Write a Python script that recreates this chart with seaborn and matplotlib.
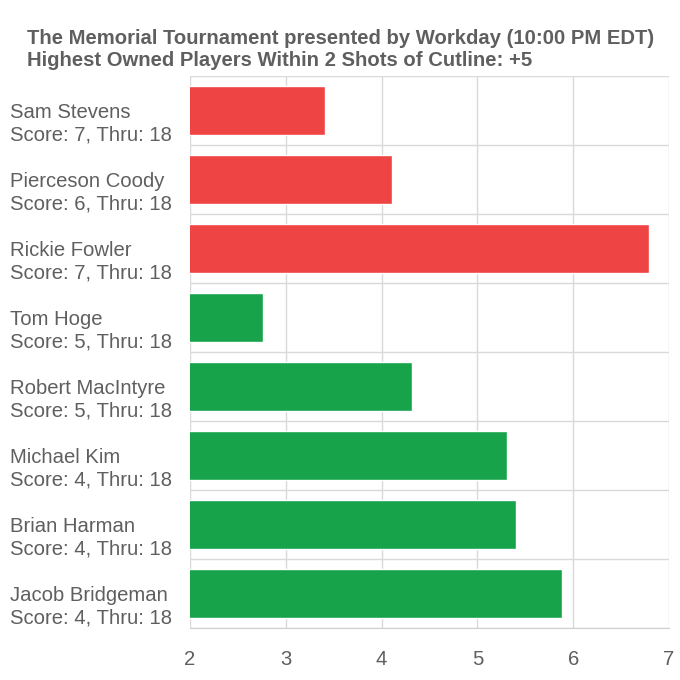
import matplotlib
matplotlib.use("Agg")
import matplotlib.pyplot as plt
import matplotlib.transforms as mtransforms
import seaborn as sns
import numpy as np
import pandas as pd

# data
players = ["Sam Stevens", "Pierceson Coody", "Rickie Fowler", "Tom Hoge",
           "Robert MacIntyre", "Michael Kim", "Brian Harman", "Jacob Bridgeman"]
scores = [7, 6, 7, 5, 5, 4, 4, 4]
thru = [18, 18, 18, 18, 18, 18, 18, 18]
owned = [3.41, 4.11, 6.79, 2.76, 4.32, 5.31, 5.40, 5.88]
cutline = 5

labels = [f"{p}\nScore: {s}, Thru: {t}" for p, s, t in zip(players, scores, thru)]
status = ["Out" if s > cutline else "In" for s in scores]
df = pd.DataFrame({"label": labels, "owned": owned, "status": status})

sns.set_style("white")
plt.rcParams["font.family"] = ["Liberation Sans", "DejaVu Sans"]

text_col = "#5f5f5f"
grid_col = "#d9d9d9"
fs = 14.6

fig = plt.figure(figsize=(6.8, 6.8), dpi=100)
ax = fig.add_axes([190 / 680, 1 - 628 / 680, (669 - 190) / 680, (628 - 76) / 680])

sns.barplot(data=df, y="label", x="owned", hue="status", orient="h",
            palette={"Out": "#ef4444", "In": "#16a34a"}, width=0.72,
            dodge=False, legend=False, ax=ax, saturation=1)

ax.set_xlim(2, 7)
ax.set_ylim(len(players) - 0.5, -0.5)
ax.set_xticks([2, 3, 4, 5, 6, 7])
ax.set_xlabel("")
ax.set_ylabel("")

# row separators as minor ticks
ax.set_yticks(np.arange(-0.5, len(players), 1), minor=True)
ax.grid(True, which="minor", axis="y", color=grid_col, lw=1)
ax.grid(True, which="major", axis="x", color=grid_col, lw=1)
ax.set_axisbelow(True)

ax.tick_params(axis="y", which="major", length=0, pad=180 * 0.72,
               labelsize=fs, labelcolor=text_col)
ax.tick_params(axis="y", which="minor", length=12, color=grid_col, width=1)
ax.tick_params(axis="x", which="major", length=12, color=grid_col, width=1,
               labelsize=fs, labelcolor=text_col, pad=4)

# first line of each label sits on the row centre, second line below it
shift = mtransforms.ScaledTranslation(0, -13 / 100, fig.dpi_scale_trans)
for lbl in ax.get_yticklabels():
    lbl.set_horizontalalignment("left")
    lbl.set_verticalalignment("center")
    lbl.set_linespacing(1.24)
    lbl.set_transform(lbl.get_transform() + shift)

for side in ["top", "right", "left"]:
    ax.spines[side].set_visible(False)
ax.spines["bottom"].set_color("#cfcfcf")

fig.text(27 / 680, 1 - 39 / 680, "The Memorial Tournament presented by Workday (10:00 PM EDT)",
         fontsize=fs, fontweight="bold", color=text_col, va="center", ha="left")
fig.text(27 / 680, 1 - 61 / 680, "Highest Owned Players Within 2 Shots of Cutline: +5",
         fontsize=fs, fontweight="bold", color=text_col, va="center", ha="left")

fig.savefig("out.png", dpi=100)
